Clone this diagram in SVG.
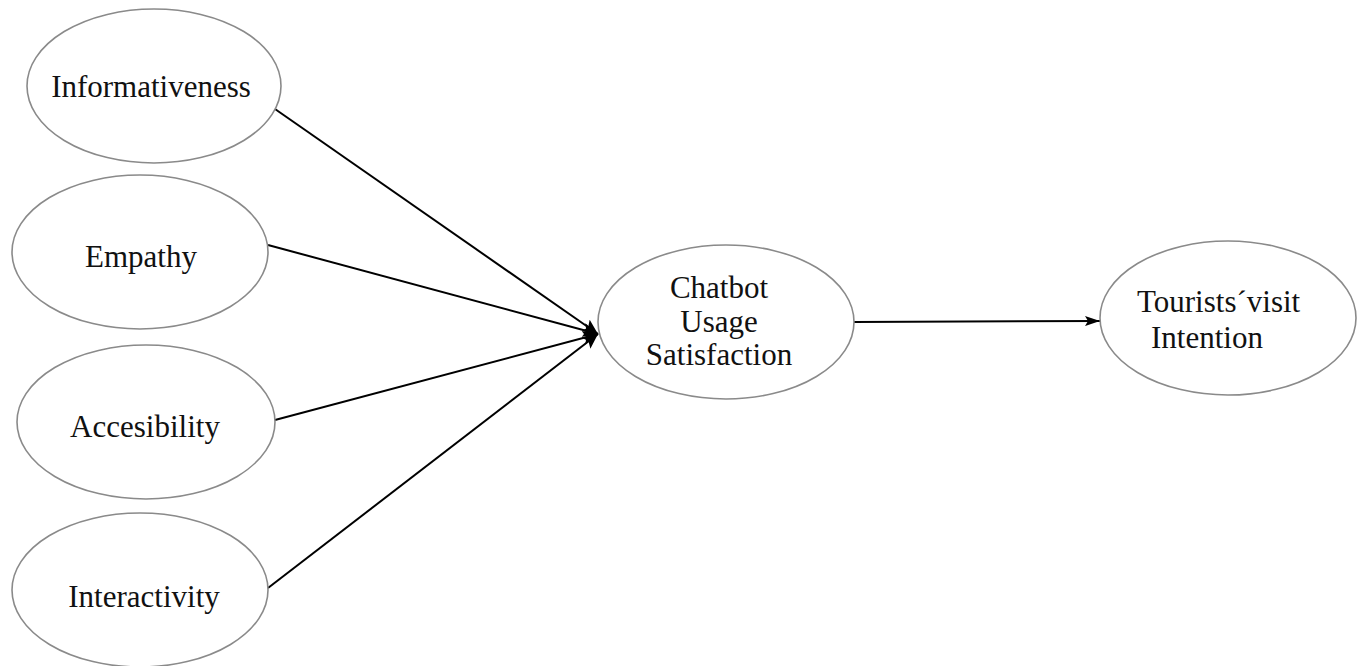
<svg xmlns="http://www.w3.org/2000/svg" width="1361" height="666" viewBox="0 0 1361 666">
<style>
.node ellipse{fill:#fff;stroke:#8a8a8a;stroke-width:1.6}
.node text{font-family:"Liberation Serif","Times New Roman",serif;font-size:31px;fill:#111}
.conn line{stroke:#000;stroke-width:2}
</style>
<defs>
<marker id="big" markerUnits="userSpaceOnUse" markerWidth="16" markerHeight="14" refX="15" refY="7" orient="auto">
<path d="M0,0 L15,7 L0,14 L3,7 Z" fill="#000"/>
</marker>
<marker id="small" markerUnits="userSpaceOnUse" markerWidth="16" markerHeight="10" refX="15" refY="5" orient="auto">
<path d="M0,0 L15,5 L0,10 L3,5 Z" fill="#000"/>
</marker>
</defs>
<rect width="1361" height="666" fill="#fff"/>
<g id="connectors" class="conn">
<line x1="275" y1="109" x2="598" y2="334" marker-end="url(#big)"/>
<line x1="268" y1="245" x2="598" y2="334" marker-end="url(#big)"/>
<line x1="275" y1="420" x2="598" y2="334" marker-end="url(#big)"/>
<line x1="268" y1="588" x2="598" y2="334" marker-end="url(#big)"/>
<line x1="854" y1="322" x2="1100" y2="321" marker-end="url(#small)"/>
</g>
<g id="informativeness" class="node">
<ellipse cx="154" cy="86" rx="127" ry="77"/>
<text x="151" y="97" text-anchor="middle">Informativeness</text>
</g>
<g id="empathy" class="node">
<ellipse cx="140" cy="252" rx="128" ry="77"/>
<text x="141" y="267" text-anchor="middle">Empathy</text>
</g>
<g id="accesibility" class="node">
<ellipse cx="146" cy="422" rx="129" ry="77"/>
<text x="145" y="437" text-anchor="middle">Accesibility</text>
</g>
<g id="interactivity" class="node">
<ellipse cx="140" cy="590" rx="128" ry="77"/>
<text x="144" y="607" text-anchor="middle">Interactivity</text>
</g>
<g id="chatbot" class="node">
<ellipse cx="726" cy="322" rx="128" ry="77"/>
<text x="719" y="298" text-anchor="middle">Chatbot</text>
<text x="719" y="332" text-anchor="middle">Usage</text>
<text x="719" y="365" text-anchor="middle">Satisfaction</text>
</g>
<g id="tourists" class="node">
<ellipse cx="1228" cy="318" rx="128" ry="77"/>
<text x="1137" y="312">Tourists´visit</text>
<text x="1151" y="348">Intention</text>
</g>
</svg>
